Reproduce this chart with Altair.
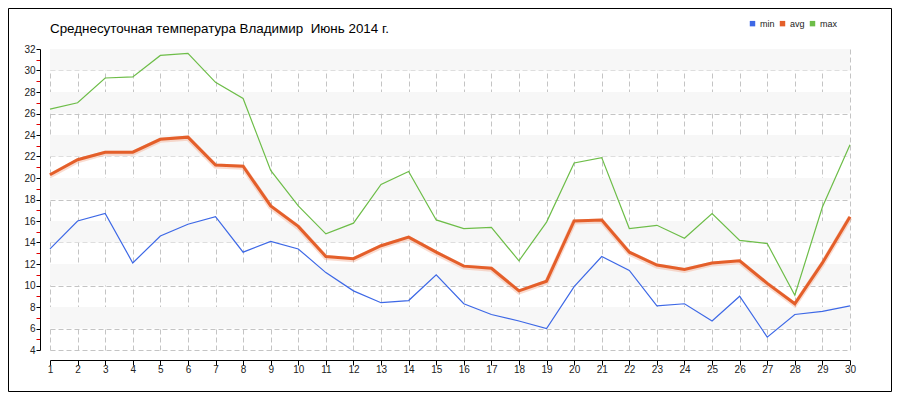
import altair as alt
import pandas as pd

days = list(range(1, 31))
t_min = [13.4, 16.0, 16.7, 12.1, 14.6, 15.7, 16.4, 13.1, 14.1, 13.4,
         11.2, 9.5, 8.4, 8.6, 11.0, 8.3, 7.3, 6.7, 6.0, 9.9,
         12.7, 11.4, 8.1, 8.3, 6.7, 9.0, 5.2, 7.3, 7.6, 8.1]
t_avg = [20.3, 21.7, 22.4, 22.4, 23.6, 23.8, 21.2, 21.1, 17.4, 15.5,
         12.7, 12.5, 13.7, 14.5, 13.1, 11.8, 11.6, 9.5, 10.4, 16.0,
         16.1, 13.1, 11.9, 11.5, 12.1, 12.3, 10.2, 8.3, 12.1, 16.4]
t_max = [26.4, 27.0, 29.3, 29.4, 31.4, 31.6, 28.9, 27.4, 20.7, 17.4,
         14.8, 15.8, 19.4, 20.6, 16.1, 15.3, 15.4, 12.3, 15.9, 21.4,
         21.9, 15.3, 15.6, 14.4, 16.7, 14.2, 13.9, 9.1, 17.3, 23.1]
series = ["min", "avg", "max"]
colors = ["#3d68e6", "#e45f2a", "#6dbd48"]
y_ticks = list(range(4, 33))
band_starts = [6, 10, 14, 18, 22, 26, 30]
title_text = "Среднесуточная температура Владимир\u00a0 Июнь 2014 г."

rows = []
for name, vals in zip(series, [t_min, t_avg, t_max]):
    for d, v in zip(days, vals):
        rows.append({"day": d, "series": name, "temp": v})
df = pd.DataFrame(rows)
bands = pd.DataFrame({"lo": band_starts, "hi": [b + 2 for b in band_starts]})

FONT = "Liberation Sans"
x_scale = alt.Scale(domain=[1, 30], nice=False, zero=False)
y_scale = alt.Scale(domain=[4, 32], nice=False, zero=False)

x_axis = alt.Axis(
    values=days, grid=True, gridDash=[5, 3], gridColor="#c4c4c4", gridWidth=1,
    domainColor="black", tickColor="black", tickSize=5, offset=10,
    labelFont=FONT, labelFontSize=10, labelColor="#222222", labelPadding=-1,
    labelFlush=False, labelOverlap=False, title=None,
)
y_axis = alt.Axis(
    values=y_ticks, grid=True, gridDash=[5, 3], gridColor="#c4c4c4", gridWidth=1,
    gridOpacity={"condition": {"test": "datum.value % 2 == 1", "value": 0}, "value": 1},
    domainColor="black",
    tickColor={"condition": {"test": "datum.value % 2 == 1", "value": "#e00000"}, "value": "black"},
    tickSize=4, offset=10,
    labelExpr="datum.value % 2 == 0 ? datum.label : ''",
    labelFont=FONT, labelFontSize=10, labelColor="#222222", labelPadding=1,
    labelOverlap=False, title=None,
)

band_layer = alt.Chart(bands).mark_rect(color="#f7f7f7").encode(
    y=alt.Y("lo:Q", scale=y_scale, axis=y_axis),
    y2="hi:Q",
    x=alt.value(0),
    x2=alt.value(800),
)

halo = alt.Chart(df).transform_filter("datum.series == 'avg'").mark_line(
    color="#f2a586", strokeWidth=5, opacity=0.4, yOffset=1
).encode(
    x=alt.X("day:Q", scale=x_scale, axis=x_axis),
    y=alt.Y("temp:Q", scale=y_scale, axis=y_axis),
)

lines = alt.Chart(df).mark_line().encode(
    x=alt.X("day:Q", scale=x_scale, axis=x_axis),
    y=alt.Y("temp:Q", scale=y_scale, axis=y_axis),
    color=alt.Color(
        "series:N",
        scale=alt.Scale(domain=series, range=colors),
        sort=series,
        legend=alt.Legend(
            title=None, orient="none", legendX=698, legendY=-30,
            direction="horizontal", symbolType="square", symbolSize=6,
            symbolStrokeWidth=3, labelFont=FONT, labelFontSize=9,
            labelColor="#222222", labelOffset=3, columnPadding=0,
        ),
    ),
    strokeWidth=alt.condition("datum.series == 'avg'", alt.value(3), alt.value(1.2)),
)

title_layer = alt.Chart(pd.DataFrame({"t": [title_text]})).mark_text(
    align="left", baseline="alphabetic", font=FONT, fontSize=13.4, color="black"
).encode(x=alt.value(0), y=alt.value(-16), text="t:N")

frame = alt.Chart(pd.DataFrame({"a": [0]})).mark_rect(
    fillOpacity=0, stroke="black", strokeWidth=1
).encode(
    x=alt.value(-41.5), x2=alt.value(841.5), y=alt.value(-40.5), y2=alt.value(342.5)
)

chart = alt.layer(band_layer, halo, lines, title_layer, frame).properties(
    width=800,
    height=301,
    autosize=alt.AutoSizeParams(type="none"),
    padding={"left": 42, "top": 41, "right": 42, "bottom": 42},
    background="white",
).configure_view(stroke=None)

chart.save("out.html", embed_options={"renderer": "svg", "actions": False})
